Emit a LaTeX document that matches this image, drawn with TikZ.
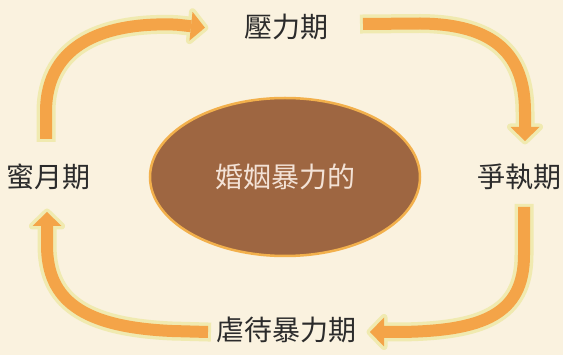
\documentclass[tikz,border=0pt]{standalone}
\usepackage{fontspec}
\newfontfamily\cjkfont{Noto Sans CJK TC}
\usetikzlibrary{calc}
\definecolor{bgc}{HTML}{FAF2DF}
\definecolor{ellfill}{HTML}{9E6641}
\definecolor{ellline}{HTML}{F2B04C}
\definecolor{arrorange}{HTML}{F4A448}
\definecolor{arrglow}{HTML}{F0EAB0}
\definecolor{txtdark}{HTML}{2B2B2B}
\definecolor{txtlight}{HTML}{F3E2D6}
\tikzset{
  phase/.style={text=txtdark, font=\cjkfont\fontsize{28}{32}\selectfont, inner sep=0pt},
  core/.style={ellipse shape/.try, draw=ellline, line width=2.5pt, fill=ellfill},
  glowline/.style={draw=arrglow, line width=19pt, shorten <=-3pt},
  orangeline/.style={draw=arrorange, line width=12pt},
}
% #1 = path up to point #2, #2 = point before base, #3 = base point
\newcommand{\bentarrow}[3]{%
  \path ($(#3)!-14pt!(#2)$) coordinate (tipX)
        ($(#3)!14.5pt!90:(#2)$) coordinate (blX)
        ($(#3)!14.5pt!-90:(#2)$) coordinate (brX);
  \filldraw[arrglow, line width=7pt, line join=round] (tipX) -- (blX) -- (brX) -- cycle;
  \draw[glowline] #1 -- (#3);
  \draw[orangeline] #1 -- (#3);
  \fill[arrorange] (tipX) -- (blX) -- (brX) -- cycle;
}
\begin{document}
\begin{tikzpicture}[x=1pt,y=-1pt]
\fill[bgc] (0,0) rectangle (563,355);
\useasboundingbox (0,0) rectangle (563,355);

% central ellipse
\filldraw[draw=ellline, line width=2.5pt, fill=ellfill] (285,177) ellipse [x radius=135, y radius=79];
\node[inner sep=0pt, text=txtlight, font=\cjkfont\fontsize{28}{32}\selectfont] (core) at (285,177) {婚姻暴力的};

% phase labels
\node[phase] (stress) at (286,27) {壓力期};
\node[phase] (dispute) at (519,177) {爭執期};
\node[phase] (abuse) at (286,330) {虐待暴力期};
\node[phase] (honey) at (48,177) {蜜月期};

% arrow coordinates
\coordinate (s1) at (46,139);
\coordinate (p1) at (176,24.6);
\coordinate (b1) at (191,26.2);
\coordinate (s2) at (363,24);
\coordinate (p2) at (525,112);
\coordinate (b2) at (525,127);
\coordinate (s3) at (524,207);
\coordinate (p3) at (400,332);
\coordinate (b3) at (384,332);
\coordinate (s4) at (208,332);
\coordinate (p4) at (47,245);
\coordinate (b4) at (47,226);

\bentarrow{(s1) -- (46,112) .. controls (46,42) and (108,22) .. (p1)}{p1}{b1}
\bentarrow{(s2) -- (420,23.5) .. controls (495,24) and (525,55) .. (p2)}{p2}{b2}
\bentarrow{(s3) -- (524,255) .. controls (524,315) and (482,331) .. (p3)}{p3}{b3}
\bentarrow{(s4) -- (172,331) .. controls (82,327) and (47,300) .. (p4)}{p4}{b4}
\end{tikzpicture}
\end{document}
